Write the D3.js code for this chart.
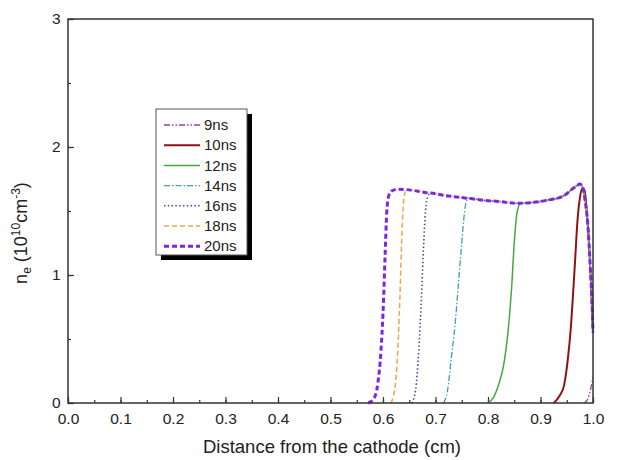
<!DOCTYPE html>
<html>
<head>
<meta charset="utf-8">
<script src="https://cdn.jsdelivr.net/npm/d3@7"></script>
<style>
  html, body { margin: 0; padding: 0; background: #fff; }
  svg { display: block; }
  text { font-family: Arial, "Liberation Sans", sans-serif; fill: #222; }
</style>
</head>
<body>
<svg id="chart" width="617" height="460"></svg>
<script>
// Electron density profiles n_e (10^10 cm^-3) versus distance from the cathode (cm)

// Shared plateau / peak profile that every developed front joins
const envX = [0.63, 0.65, 0.68, 0.70, 0.72, 0.74, 0.76, 0.78, 0.80, 0.82, 0.84, 0.86, 0.88, 0.90, 0.92, 0.94, 0.95, 0.96, 0.97, 0.975, 0.98, 0.985, 0.99, 0.995, 0.998, 1.0];
const envY = [1.67, 1.665, 1.645, 1.635, 1.62, 1.61, 1.60, 1.59, 1.58, 1.575, 1.565, 1.56, 1.565, 1.575, 1.59, 1.61, 1.635, 1.67, 1.70, 1.71, 1.69, 1.58, 1.40, 1.05, 0.80, 0.55];

// Ionisation fronts (leading edge of each profile)
const front20X = [0.572, 0.582, 0.590, 0.596, 0.600, 0.604, 0.607, 0.611, 0.618];
const front20Y = [0.0, 0.03, 0.15, 0.40, 0.70, 1.15, 1.48, 1.62, 1.66];
const front18X = [0.615, 0.622, 0.628, 0.632, 0.635, 0.638, 0.641, 0.645];
const front18Y = [0.0, 0.10, 0.40, 0.80, 1.20, 1.50, 1.63, 1.665];
const front16X = [0.655, 0.662, 0.668, 0.673, 0.677, 0.681, 0.685, 0.690];
const front16Y = [0.0, 0.10, 0.40, 0.80, 1.20, 1.50, 1.61, 1.64];
const front14X = [0.715, 0.723, 0.730, 0.737, 0.744, 0.750, 0.755, 0.759, 0.765];
const front14Y = [0.0, 0.10, 0.35, 0.60, 0.95, 1.25, 1.48, 1.58, 1.60];
const front12X = [0.800, 0.810, 0.820, 0.830, 0.838, 0.845, 0.850, 0.855, 0.862];
const front12Y = [0.0, 0.04, 0.14, 0.30, 0.55, 0.90, 1.25, 1.48, 1.56];
const curve10X = [0.925, 0.937, 0.945, 0.952, 0.958, 0.962, 0.966, 0.970, 0.975, 0.980, 0.984, 0.988, 0.992, 0.996, 1.0];
const curve10Y = [0.0, 0.06, 0.14, 0.34, 0.60, 0.85, 1.12, 1.40, 1.60, 1.68, 1.66, 1.50, 1.28, 0.95, 0.55];
const curve9X = [0.983, 0.990, 0.995, 1.0];
const curve9Y = [0.0, 0.03, 0.10, 0.20];

const seriesNames = ["9ns", "10ns", "12ns", "14ns", "16ns", "18ns", "20ns"];
const seriesColors = ["#a03aa6", "#8c1414", "#48a448", "#3ba3ad", "#4b3f96", "#f2a640", "#7b26e6"];
const seriesDash = ["6,2,1.5,2,1.5,2", null, null, "6,2,1.5,2", "1.4,2.4", "5,3", "5,3"];
const seriesWidth = [1.3, 2, 1.5, 1.3, 1.6, 1.5, 3];

const xTicks = [0.0, 0.1, 0.2, 0.3, 0.4, 0.5, 0.6, 0.7, 0.8, 0.9, 1.0];
const yTicks = [0, 1, 2, 3];

// join a front onto the shared profile (profile points beyond the front's last x)
function joinFront(fx, fy) {
  const last = fx[fx.length - 1];
  const pts = fx.map((x, i) => [x, fy[i]]);
  envX.forEach((x, i) => { if (x > last) pts.push([x, envY[i]]); });
  return pts;
}
const zip = (xs, ys) => xs.map((x, i) => [x, ys[i]]);

const seriesPoints = [
  zip(curve9X, curve9Y),
  zip(curve10X, curve10Y),
  joinFront(front12X, front12Y),
  joinFront(front14X, front14Y),
  joinFront(front16X, front16Y),
  joinFront(front18X, front18Y),
  joinFront(front20X, front20Y)
];

const svg = d3.select("#chart");
const m = { left: 68, right: 593, top: 19, bottom: 403 };

const x = d3.scaleLinear().domain([0, 1]).range([m.left, m.right]);
const y = d3.scaleLinear().domain([0, 3]).range([m.bottom, m.top]);

// minor / major ticks pointing inward
const xAxis = d3.axisBottom(x).tickValues(d3.range(0, 1.0001, 0.05))
  .tickSize(-3).tickFormat(() => "");
const xMajor = d3.axisBottom(x).tickValues(xTicks).tickSize(-6).tickPadding(9)
  .tickFormat(d3.format(".1f"));
const yAxis = d3.axisLeft(y).tickValues(d3.range(0, 3.0001, 0.5))
  .tickSize(-3).tickFormat(() => "");
const yMajor = d3.axisLeft(y).tickValues(yTicks).tickSize(-6).tickPadding(9)
  .tickFormat(d3.format("d"));

function styleAxis(g) {
  g.select(".domain").remove();
  g.selectAll("line").attr("stroke", "#333").attr("stroke-width", 1.2);
  g.selectAll("text").attr("font-size", 15.5).attr("fill", "#222");
}

svg.append("g").attr("transform", `translate(0,${m.bottom})`).call(xAxis).call(styleAxis);
svg.append("g").attr("transform", `translate(0,${m.bottom})`).call(xMajor).call(styleAxis)
  .selectAll("text").attr("dy", "0.75em");
svg.append("g").attr("transform", `translate(${m.left},0)`).call(yAxis).call(styleAxis);
svg.append("g").attr("transform", `translate(${m.left},0)`).call(yMajor).call(styleAxis)
  .selectAll("text").attr("dx", "0.1em");

// curves
const line = d3.line().x(d => x(d[0])).y(d => y(d[1])).curve(d3.curveMonotoneX);
const plot = svg.append("g");
seriesPoints.forEach((pts, i) => {
  plot.append("path")
    .attr("d", line(pts))
    .attr("fill", "none")
    .attr("stroke", seriesColors[i])
    .attr("stroke-width", seriesWidth[i])
    .attr("stroke-dasharray", seriesDash[i])
    .attr("stroke-linejoin", "round");
});

// plot frame
svg.append("rect")
  .attr("x", m.left).attr("y", m.top)
  .attr("width", m.right - m.left).attr("height", m.bottom - m.top)
  .attr("fill", "none").attr("stroke", "#333").attr("stroke-width", 1.5);

// axis titles
svg.append("text")
  .attr("x", 332).attr("y", 453)
  .attr("text-anchor", "middle").attr("font-size", 18.5)
  .text("Distance from the cathode (cm)");

const yt = svg.append("text")
  .attr("transform", "translate(27,233) rotate(-90)")
  .attr("text-anchor", "middle").attr("font-size", 18);
yt.append("tspan").text("n");
yt.append("tspan").attr("font-size", 12).attr("dy", 4).text("e");
yt.append("tspan").attr("dy", -4).text(" (10");
yt.append("tspan").attr("font-size", 12).attr("dy", -7).text("10");
yt.append("tspan").attr("dy", 7).text("cm");
yt.append("tspan").attr("font-size", 12).attr("dy", -7).text("-3");
yt.append("tspan").attr("dy", 7).text(")");

// legend with drop shadow
const lg = svg.append("g").attr("transform", "translate(156,109)");
lg.append("rect").attr("x", 5).attr("y", 5).attr("width", 91).attr("height", 146).attr("fill", "#000");
lg.append("rect").attr("x", 0).attr("y", 0).attr("width", 91).attr("height", 146)
  .attr("fill", "#fff").attr("stroke", "#555").attr("stroke-width", 1);
seriesNames.forEach((name, i) => {
  const yy = 16 + i * 20.2;
  lg.append("line")
    .attr("x1", 8).attr("x2", 44).attr("y1", yy).attr("y2", yy)
    .attr("stroke", seriesColors[i])
    .attr("stroke-width", seriesWidth[i])
    .attr("stroke-dasharray", seriesDash[i]);
  lg.append("text").attr("x", 48).attr("y", yy).attr("dy", "0.35em")
    .attr("font-size", 15).text(name);
});
</script>
</body>
</html>
